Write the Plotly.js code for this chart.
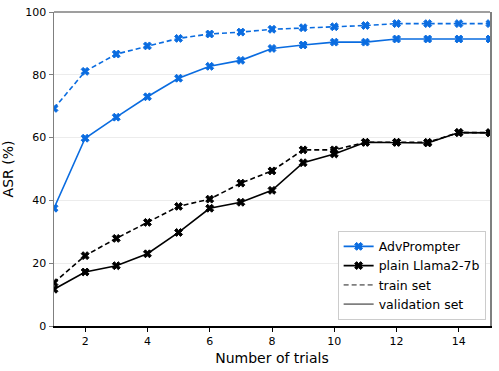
<!DOCTYPE html>
<html>
<head>
<meta charset="utf-8">
<script src="https://cdn.plot.ly/plotly-3.0.1.min.js"></script>
<style>
  body { margin: 0; background: #fff; }
  #myDiv { width: 499px; height: 371px; }
</style>
</head>
<body>
<div id="myDiv"></div>
<script>
// number of trials
let trials = [1, 2, 3, 4, 5, 6, 7, 8, 9, 10, 11, 12, 13, 14, 15]

// ASR (%) values
let advTrain = [69.3, 81.1, 86.6, 89.2, 91.6, 93.0, 93.6, 94.5, 95.0, 95.3, 95.7, 96.3, 96.3, 96.3, 96.3]
let advVal = [37.5, 59.8, 66.5, 73.0, 78.9, 82.7, 84.6, 88.4, 89.5, 90.4, 90.4, 91.4, 91.4, 91.4, 91.4]
let llamaTrain = [13.8, 22.4, 27.9, 33.0, 38.1, 40.4, 45.5, 49.4, 56.1, 56.1, 58.5, 58.5, 58.5, 61.6, 61.6]
let llamaVal = [11.7, 17.2, 19.2, 23.0, 29.8, 37.5, 39.4, 43.2, 52.0, 54.8, 58.5, 58.5, 58.3, 61.6, 61.5]

let xTicks = [2, 4, 6, 8, 10, 12, 14]
let yTicks = [0, 20, 40, 60, 80, 100]

const blue = '#0a6ce0'
const black = '#000000'
const gray = '#7f7f7f'

function series(x, y, color, dash, name, showLeg){
	return {
		x: x,
		y: y,
		mode: 'lines+markers',
		name: name,
		showlegend: showLeg,
		line: {color: color, width: 1.6, dash: dash},
		marker: {symbol: 'x', size: 7, color: color, line: {color: color, width: 1}}
	}
}

var data = [
	series(trials, advTrain, blue, '5px,3px', 'AdvPrompter train', false),
	series(trials, advVal, blue, 'solid', 'AdvPrompter', true),
	series(trials, llamaTrain, black, '5px,3px', 'plain Llama2-7b train', false),
	series(trials, llamaVal, black, 'solid', 'plain Llama2-7b', true),
	// legend only entries
	{x: [null], y: [null], mode: 'lines', name: 'train set', line: {color: gray, width: 1.6, dash: '5px,3px'}},
	{x: [null], y: [null], mode: 'lines', name: 'validation set', line: {color: gray, width: 1.6}}
]

var layout = {
	width: 499,
	height: 371,
	margin: {l: 54, r: 9, t: 12, b: 45},
	paper_bgcolor: '#ffffff',
	plot_bgcolor: '#ffffff',
	font: {family: 'DejaVu Sans, sans-serif', size: 11, color: '#000'},
	showlegend: true,
	legend: {
		x: 0.99, y: 0.02, xanchor: 'right', yanchor: 'bottom',
		bgcolor: 'rgba(255,255,255,0.9)',
		bordercolor: '#cccccc', borderwidth: 1,
		font: {size: 12.5},
		itemwidth: 30,
		tracegroupgap: 0
	},
	xaxis: {
		range: [1, 15],
		tickvals: xTicks,
		ticks: 'outside', ticklen: 4, tickcolor: black,
		showline: true, linecolor: black, linewidth: 1.5,
		showgrid: false, zeroline: false,
		title: {text: 'Number of trials', font: {size: 14}, standoff: 6}
	},
	yaxis: {
		range: [0, 100],
		tickvals: yTicks,
		ticks: 'outside', ticklen: 4, tickcolor: gray,
		showline: true, linecolor: gray, linewidth: 1.5, mirror: true,
		showgrid: true, gridcolor: '#ececec', gridwidth: 1,
		zeroline: false,
		title: {text: 'ASR (%)', font: {size: 14}, standoff: 8}
	},
	shapes: [
		{type: 'line', xref: 'paper', yref: 'paper', x0: 0, x1: 1, y0: 1, y1: 1,
		 line: {color: gray, width: 1.5}}
	]
}

Plotly.newPlot('myDiv', data, layout, {displayModeBar: false, staticPlot: true})
</script>
</body>
</html>
